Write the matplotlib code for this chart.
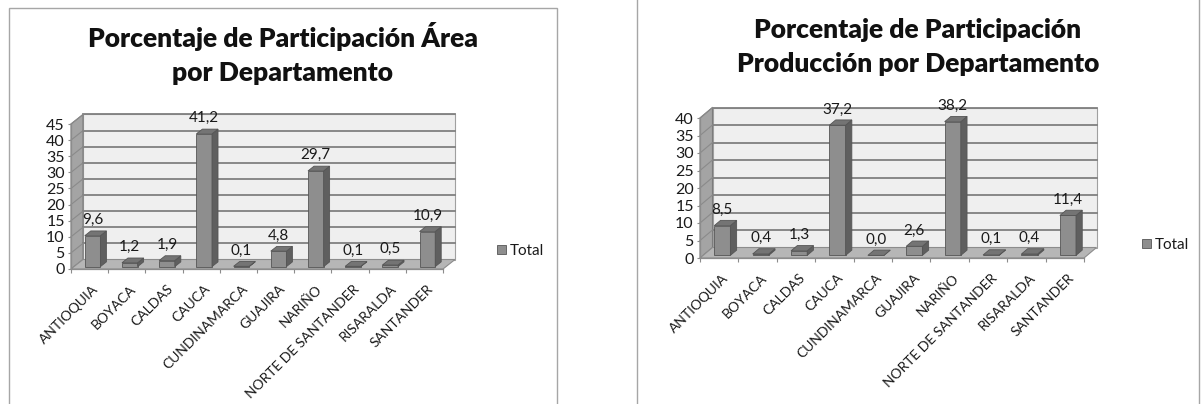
import matplotlib
matplotlib.use('Agg')
import matplotlib.pyplot as plt
from matplotlib.patches import Polygon, Rectangle, Patch

plt.rcParams['font.family'] = ['Lato', 'DejaVu Sans']

# datos de participación por departamento (%)
departamentos = ['ANTIOQUIA', 'BOYACA', 'CALDAS', 'CAUCA', 'CUNDINAMARCA',
                 'GUAJIRA', 'NARIÑO', 'NORTE DE SANTANDER', 'RISARALDA', 'SANTANDER']
area = [9.6, 1.2, 1.9, 41.2, 0.1, 4.8, 29.7, 0.1, 0.5, 10.9]
produccion = [8.5, 0.4, 1.3, 37.2, 0.0, 2.6, 38.2, 0.1, 0.4, 11.4]

titulos_area = ['Porcentaje de Participación Área', 'por Departamento']
titulos_prod = ['Porcentaje de Participación', 'Producción por Departamento']
serie = 'Total'

W, H = 1203, 404
fig = plt.figure(figsize=(W / 100, H / 100), dpi=100)


def caja(x0, y0, x1, y1):
    # caja en pixeles (origen arriba a la izquierda) -> fracción de figura
    return [x0 / W, 1 - y1 / H, (x1 - x0) / W, (y1 - y0) / H]


C_BARRA = '#8e8e8e'
C_LADO = '#5f5f5f'
C_TAPA = '#747474'
C_BORDE = '#555555'
C_GRID = '#808080'


def grafico(box, valores, ymax, prof):
    ax = fig.add_axes(caja(*box))
    n = len(valores)
    ax.set_xlim(-0.5, n - 0.5)
    ax.set_ylim(0, ymax)
    x0, y0, x1, y1 = box
    # desplazamiento de profundidad en unidades de datos
    ddx = prof[0] / ((x1 - x0) / n)
    ddy = prof[1] / ((y1 - y0) / ymax)

    # pared del fondo
    ax.add_patch(Rectangle((-0.5 + ddx, ddy), n, ymax, fc='#efefef', ec='#a0a0a0',
                           lw=0.8, clip_on=False, zorder=0))
    # pared lateral
    ax.add_patch(Polygon([(-0.5, 0), (-0.5, ymax), (-0.5 + ddx, ymax + ddy), (-0.5 + ddx, ddy)],
                         closed=True, fc='#a4a4a4', ec='#7c7c7c', lw=0.8, clip_on=False, zorder=1))
    # líneas de división
    for v in range(5, ymax + 1, 5):
        ax.plot([-0.5 + ddx, n - 0.5 + ddx], [v + ddy, v + ddy], color=C_GRID, lw=1.3,
                clip_on=False, zorder=1.5)
        ax.plot([-0.5, -0.5 + ddx], [v, v + ddy], color='#8a8a8a', lw=0.8,
                clip_on=False, zorder=1.5)
    # piso
    ax.add_patch(Polygon([(-0.5, 0), (n - 0.5, 0), (n - 0.5 + ddx, ddy), (-0.5 + ddx, ddy)],
                         closed=True, fc='#b6b6b6', ec='#8c8c8c', lw=0.8, clip_on=False, zorder=2))

    # barras
    bw = 0.42
    base = 0.25 * ddy
    xs = [i + 0.25 * ddx for i in range(n)]
    barras = ax.bar(xs, valores, width=bw, bottom=base, color=C_BARRA, edgecolor=C_BORDE,
                    lw=0.6, zorder=4, clip_on=False)
    for b, v, xc in zip(barras, valores, xs):
        xl = b.get_x()
        xr = xl + bw
        top = base + v
        ex, ey = 0.5 * ddx, 0.5 * ddy
        ax.add_patch(Polygon([(xr, base), (xr + ex, base + ey), (xr + ex, top + ey), (xr, top)],
                             closed=True, fc=C_LADO, ec=C_BORDE, lw=0.6, zorder=4, clip_on=False))
        ax.add_patch(Polygon([(xl, top), (xr, top), (xr + ex, top + ey), (xl + ex, top + ey)],
                             closed=True, fc=C_TAPA, ec=C_BORDE, lw=0.6, zorder=4, clip_on=False))
        ax.annotate(f'{v:.1f}'.replace('.', ','), xy=(xc, top), xytext=(0, 11.3),
                    textcoords='offset points', ha='center', va='center',
                    fontsize=11, color='#1a1a1a', zorder=6, annotation_clip=False)

    # ejes
    for s in ['top', 'right']:
        ax.spines[s].set_visible(False)
    for s in ['left', 'bottom']:
        ax.spines[s].set_color('#8c8c8c')
        ax.spines[s].set_linewidth(0.9)
        ax.spines[s].set_zorder(3)
    ax.set_facecolor('none')
    ax.set_yticks(range(0, ymax + 1, 5))
    ax.tick_params(axis='y', length=2.5, width=0.8, color='#8c8c8c', pad=2,
                   labelsize=11.5, labelcolor='#1a1a1a')
    ax.set_xticks([i - 0.5 for i in range(n + 1)])
    ax.set_xticklabels([])
    ax.tick_params(axis='x', length=3, width=0.8, color='#8c8c8c')
    for i, nombre in enumerate(departamentos):
        ax.annotate(nombre, xy=(i, 0), xytext=(2, -10), textcoords='offset points',
                    rotation=45, ha='right', va='top', rotation_mode='anchor',
                    fontsize=10, color='#1a1a1a', annotation_clip=False)
    return ax


grafico((71, 124, 443, 269), area, 45, (12, 9.5))
grafico((700, 118, 1084, 258), produccion, 40, (12.5, 10.5))

# títulos
for txt, yb in zip(titulos_area, [47, 81]):
    fig.text(283 / W, 1 - yb / H, txt, ha='center', va='baseline', fontsize=19,
             fontweight='heavy', color='#111111')
for txt, yb in zip(titulos_prod, [38, 72]):
    fig.text(918 / W, 1 - yb / H, txt, ha='center', va='baseline', fontsize=19,
             fontweight='heavy', color='#111111')

# leyendas
for xl, yl in [(497, 251), (1142, 245)]:
    fig.legend(handles=[Patch(fc=C_BARRA, ec=C_BORDE, lw=0.6, label=serie)],
               loc='center left', bbox_to_anchor=(xl / W, 1 - yl / H), frameon=False,
               handlelength=0.6, handleheight=0.6, handletextpad=0.25, borderpad=0,
               borderaxespad=0, fontsize=11, labelcolor='#1a1a1a')

# marcos de los gráficos
fig.add_artist(Rectangle((9 / W, -0.1), (557 - 9) / W, 1.1 - 8 / H, transform=fig.transFigure,
                         fill=False, ec='#a6a6a6', lw=1))
fig.add_artist(Rectangle((637 / W, -0.1), (1199 - 637) / W, 1.3, transform=fig.transFigure,
                         fill=False, ec='#a6a6a6', lw=1))

fig.savefig('out.png', dpi=100)
